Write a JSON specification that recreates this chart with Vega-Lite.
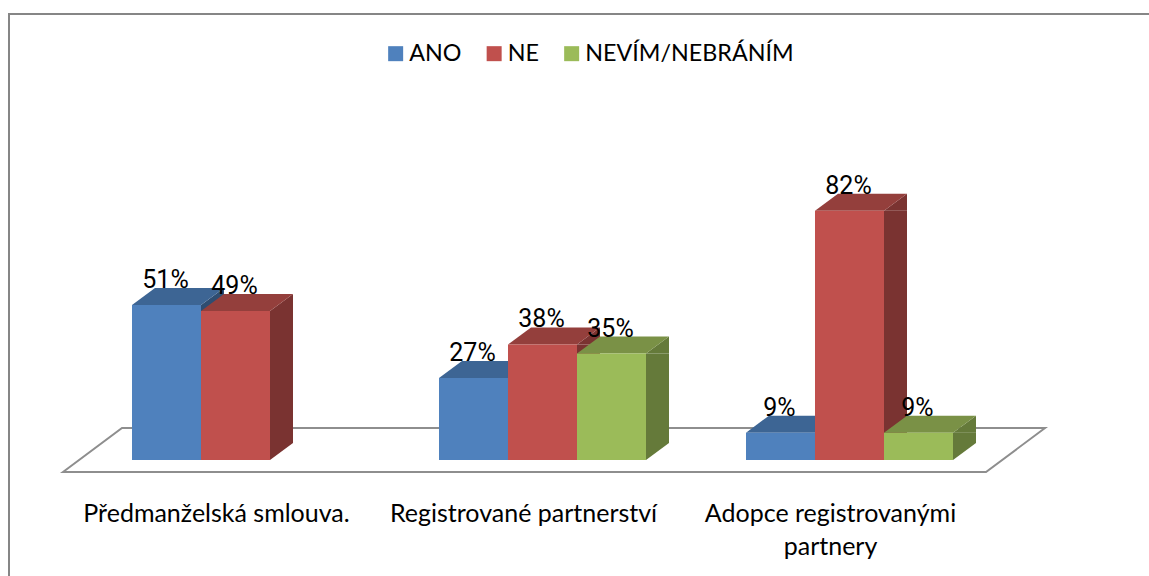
{
"$schema":"https://vega.github.io/schema/vega-lite/v6.json",
"width":1149,"height":576,"padding":0,"autosize":{"type":"none"},"background":"white",
"config":{"view":{"stroke":null}},
"data":{"values":[
{"category":"Předmanželská smlouva.","series":"ANO","value":0.51},
{"category":"Předmanželská smlouva.","series":"NE","value":0.49},
{"category":"Registrované partnerství","series":"ANO","value":0.27},
{"category":"Registrované partnerství","series":"NE","value":0.38},
{"category":"Registrované partnerství","series":"NEVÍM/NEBRÁNÍM","value":0.35},
{"category":"Adopce registrovanými partnery","series":"ANO","value":0.09},
{"category":"Adopce registrovanými partnery","series":"NE","value":0.82},
{"category":"Adopce registrovanými partnery","series":"NEVÍM/NEBRÁNÍM","value":0.09}
]},
"encoding":{
"x":{"field":"category","type":"nominal","sort":null,"scale":{"type":"band","domain":["Předmanželská smlouva.","Registrované partnerství","Adopce registrovanými partnery"],"range":[82,1003],"paddingInner":0,"paddingOuter":0},
 "axis":{"title":null,"orient":"bottom","domain":false,"ticks":false,"grid":false,"labelAngle":0,"offset":-75,"labelPadding":0,"labelOffset":-19,"labelFont":"Lato","labelFontSize":25,"labelColor":"#000000","labelLimit":0,"labelOverlap":false,"labelLineHeight":33,"labelBaseline":"top","labelExpr":"datum.value==='Adopce registrovanými partnery' ? ['Adopce registrovanými','partnery'] : datum.value"}},
"xOffset":{"field":"series","type":"nominal","sort":null,"scale":{"type":"band","domain":["ANO","NE","NEVÍM/NEBRÁNÍM"],"paddingInner":0,"paddingOuter":0.7246}}
},
"layer":[
{"transform":[{"filter":"datum.category==='Registrované partnerství' && datum.series==='NE'"}],
 "mark":{"type":"point","shape":"M-533.5 130 L-533.5 -446 L620 -446","size":4,"filled":false,"fill":"transparent","stroke":"#868686","strokeWidth":2,"opacity":1},
 "encoding":{"y":{"datum":0,"type":"quantitative","scale":{"domain":[0,1],"range":[460,156]},"axis":null}}},
{"transform":[{"filter":"datum.category==='Registrované partnerství' && datum.series==='NE'"}],
 "mark":{"type":"point","shape":"M-479.5 12 L-420.5 -32 L502.5 -32 L443.5 12 Z","size":4,"filled":false,"fill":"transparent","stroke":"#8E8E8E","strokeWidth":2,"opacity":1},
 "encoding":{"y":{"datum":0,"type":"quantitative"}}},
{"mark":{"type":"bar","y2Offset":-17},
 "encoding":{
  "xOffset":{"field":"series","type":"nominal","sort":null,"scale":{"type":"band","domain":["ANO","NE","NEVÍM/NEBRÁNÍM"],"range":[119,280],"paddingInner":0.6667,"paddingOuter":0}},
  "y":{"field":"value","type":"quantitative"},"y2":{"datum":0},"color":{"field":"series","type":"nominal","legend":null,"scale":{"domain":["ANO","NE","NEVÍM/NEBRÁNÍM"],"range":["#2F4D71","#7A3331","#657A3A"]}}}},
{"mark":{"type":"point","shape":"M34.5 0 L57.5 0 L57.5 -17 Z","size":4,"filled":true,"opacity":1,"strokeWidth":0},
 "encoding":{"y":{"field":"value","type":"quantitative"},"color":{"field":"series","type":"nominal","legend":null,"scale":{"domain":["ANO","NE","NEVÍM/NEBRÁNÍM"],"range":["#2F4D71","#7A3331","#657A3A"]}}}},
{"mark":{"type":"point","shape":"M34.5 0 L34.5 -17 L57.5 -17 Z","size":4,"filled":true,"opacity":1,"strokeWidth":0},
 "encoding":{"y":{"datum":0,"type":"quantitative"},"color":{"field":"series","type":"nominal","legend":null,"scale":{"domain":["ANO","NE","NEVÍM/NEBRÁNÍM"],"range":["#2F4D71","#7A3331","#657A3A"]}}}},
{"mark":{"type":"point","shape":"M-34.5 0 L34.5 0 L57.5 -17 L-11.5 -17 Z","size":4,"filled":true,"opacity":1,"strokeWidth":0},
 "encoding":{"y":{"field":"value","type":"quantitative"},"color":{"field":"series","type":"nominal","legend":null,"scale":{"domain":["ANO","NE","NEVÍM/NEBRÁNÍM"],"range":["#3D6594","#943F3C","#7A9146"]}}}},
{"mark":{"type":"bar"},
 "encoding":{
  "y":{"field":"value","type":"quantitative"},
  "color":{"field":"series","type":"nominal","scale":{"domain":["ANO","NE","NEVÍM/NEBRÁNÍM"],"range":["#4F81BD","#C0504D","#9BBB59"]},
   "legend":{"title":null,"orient":"none","direction":"horizontal","columns":3,"legendX":384,"legendY":42,"symbolType":"square","symbolSize":225,"symbolStrokeWidth":0,"labelFont":"Lato","labelFontSize":23.3,"labelColor":"#000000","labelOffset":2,"columnPadding":20.5,"labelLimit":0}}}},
{"mark":{"type":"text","dy":-25,"dx":-1,"font":"Roboto","fontSize":25,"color":"#000000"},
 "encoding":{"y":{"field":"value","type":"quantitative"},"text":{"field":"value","type":"quantitative","format":".0%"}}}
],
"resolve":{"scale":{"color":"independent","xOffset":"independent"}}
}
